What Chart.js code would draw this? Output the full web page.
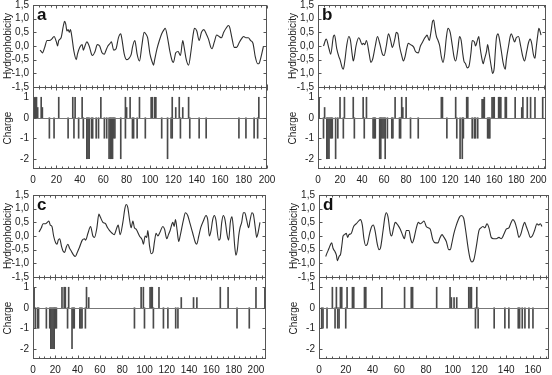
<!DOCTYPE html>
<html>
<head>
<meta charset="utf-8">
<script src="https://cdn.jsdelivr.net/npm/chart.js@4.4.1/dist/chart.umd.min.js"></script>
<style>
  body { margin: 0; width: 552px; height: 375px; overflow: hidden; background: #fff; position: relative; }
  canvas { position: absolute; }
</style>
</head>
<body>
<canvas id="pa"></canvas>
<canvas id="pb"></canvas>
<canvas id="pc"></canvas>
<canvas id="pd"></canvas>
<script>
// hydrophobicity profiles: [residue, value]
const hydroA = [[6,-0.15],[7,-0.2],[8,-0.25],[10,-0.05],[12,0.2],[14,0.2],[16,0.25],[18,0.35],[20,0.15],[21,0.0],[22,0.2],[24,0.3],[26,0.75],[27,0.9],[28,0.8],[29,0.55],[30,0.6],[31,0.5],[32,0.6],[33,0.4],[35,-0.2],[37,-0.5],[38,-0.3],[40,-0.05],[42,0.05],[43,-0.15],[44,-0.05],[46,0.15],[48,0.0],[50,-0.3],[51,-0.35],[53,-0.2],[55,0.05],[57,0.0],[59,-0.25],[61,-0.3],[62,-0.2],[64,0.0],[66,0.1],[67,0.15],[69,-0.15],[71,-0.1],[73,0.3],[75,0.45],[76,0.25],[78,-0.3],[80,-0.5],[82,-0.45],[84,-0.3],[85,-0.05],[87,0.2],[88,0.0],[89,-0.3],[91,-0.55],[93,0.0],[95,0.5],[97,0.4],[98,0.3],[100,-0.3],[102,-0.6],[103,-0.7],[104,-0.5],[106,-0.1],[108,0.2],[110,0.45],[112,0.6],[113,0.65],[115,0.3],[117,-0.2],[119,-0.55],[120,-0.6],[122,-0.25],[124,-0.2],[126,-0.35],[128,0.2],[129,0.0],[131,-0.5],[133,-0.7],[135,-0.2],[137,0.45],[138,0.65],[140,0.55],[142,0.2],[144,0.5],[146,0.6],[148,0.45],[150,0.25],[152,-0.05],[153,-0.1],[155,0.15],[157,0.4],[159,0.35],[161,0.3],[163,0.5],[165,0.65],[167,0.75],[168,0.7],[170,0.3],[172,-0.05],[174,-0.05],[176,0.1],[178,0.25],[180,0.35],[182,0.3],[184,0.3],[186,0.2],[188,0.1],[190,-0.4],[192,-0.65],[193,-0.65],[194,-0.55],[196,-0.2],[197,0.0]];
const hydroB = [[5,0.0],[7.5,0.25],[10,-0.1],[11.5,-0.3],[14,0.35],[15,0.4],[17,-0.1],[19,-0.4],[20,-0.5],[22,-0.8],[23,-0.85],[24.5,-0.5],[26,0.0],[28,0.35],[29.5,0.2],[31,-0.3],[32,-0.55],[33,-0.4],[34.5,0.0],[37,0.3],[38,0.25],[40,0.05],[41,0.1],[42.5,0.05],[44,0.2],[46.5,-0.3],[48,-0.6],[49.5,-0.5],[52,0.0],[54,0.35],[56,0.1],[58.5,-0.3],[60,-0.35],[62,0.0],[64,0.45],[66,0.2],[67.5,-0.05],[70,0.3],[71,0.5],[72.5,0.45],[74,0.0],[76,-0.35],[77.5,-0.55],[79,-0.4],[80.5,-0.1],[82,0.1],[84,0.05],[86,0.0],[87,-0.05],[88.5,-0.2],[91,-0.25],[93,0.0],[95,0.15],[97,0.3],[98,0.35],[99,0.4],[101,0.2],[102.5,0.5],[104,0.9],[105,0.95],[106,0.7],[107.5,0.35],[109,0.2],[110.5,0.0],[112,-0.4],[113.5,-0.6],[115,-0.3],[116.5,0.3],[118,0.65],[120,0.5],[122,0.0],[123.5,-0.4],[125,-0.55],[127,-0.1],[128.5,0.35],[130,0.2],[131.5,-0.3],[132.5,-0.55],[134,-0.65],[135.5,-0.8],[137,-0.75],[139,-0.2],[140,0.2],[142,0.15],[143,0.0],[145,0.25],[146,0.35],[147,0.0],[148.5,-0.4],[150,-0.65],[151,-0.5],[153,-0.2],[154,0.05],[155.5,-0.3],[157.5,-0.8],[158.5,-1.0],[160,-0.8],[161,-0.2],[162,0.3],[163.5,0.45],[164.5,0.3],[166.5,-0.2],[168,-0.6],[170,-0.85],[171,-0.5],[173,0.0],[174.5,0.35],[175.5,0.45],[177,0.3],[178.5,0.15],[180,0.3],[182,0.35],[184,0.0],[186,-0.4],[187.5,-0.55],[189.5,-0.2],[191,0.1],[192.5,0.25],[194,0.1],[195.5,-0.3],[197,-0.45],[198,-0.1],[199.5,0.4],[200.5,0.65],[201.5,0.55],[202.5,0.4]];
const hydroC = [[5.4,0.15],[7.5,0.3],[9,0.45],[11.3,0.45],[12.8,0.5],[14.3,0.55],[15.5,0.4],[17,0.35],[18.5,0.0],[20.3,-0.25],[21.5,-0.3],[22.7,-0.15],[23.9,-0.1],[25.7,-0.4],[26.9,-0.55],[28.4,-0.6],[29.9,-0.4],[31.3,-0.3],[32.8,-0.45],[34.3,-0.55],[36.4,-0.7],[37.9,-0.75],[39.7,-0.6],[41.8,-0.4],[44.2,-0.15],[46.3,-0.1],[47.2,-0.15],[49.3,0.1],[51.6,0.35],[53.7,0.0],[55.2,-0.05],[57.3,0.3],[59.1,0.8],[60.3,0.7],[62.7,0.5],[65,0.45],[66.9,0.3],[68.7,0.2],[71,0.1],[72.8,0.05],[75.2,0.3],[76.4,0.4],[78.2,0.05],[80.6,0.5],[82.4,1.0],[83.6,1.15],[85,1.05],[86.6,0.6],[88,0.3],[89.6,0.55],[91,0.3],[92.5,0.25],[95.5,0.0],[98,-0.15],[99,-0.3],[100.6,0.0],[102,-0.05],[103,0.2],[104.5,-0.35],[106,-0.65],[107.5,-0.6],[109,-0.2],[110.4,0.1],[112,0.0],[114,0.15],[116.4,0.35],[118,0.25],[120,-0.1],[121.5,0.05],[123,0.2],[125.4,0.5],[126.6,0.35],[127.8,0.6],[129.3,0.2],[130.7,-0.2],[132,0.0],[135,0.6],[136.7,0.85],[138.8,0.75],[140.9,0.45],[143.3,0.1],[145.7,-0.25],[146.9,-0.3],[148.7,0.0],[150.4,0.3],[152.8,0.55],[155.2,0.75],[156.7,0.6],[158.2,0.0],[159.7,0.2],[161.2,0.6],[162.7,0.75],[164,0.6],[166.6,-0.15],[167.8,-0.1],[169.3,0.5],[170.7,0.75],[172.2,0.6],[174.3,0.0],[175.5,-0.15],[177,0.5],[178.5,0.7],[179.7,0.3],[181,-0.4],[182,-0.7],[183.3,-0.5],[184.5,0.0],[185.7,0.3],[187.2,0.5],[188.7,0.85],[190,0.85],[191.6,0.6],[193.4,0.3],[194.6,0.55],[196.4,0.85],[197.6,0.8],[199.4,0.3],[200.6,-0.05],[201.8,0.1],[203.6,0.5]];
const hydroD = [[5,-0.75],[6.2,-0.6],[7.5,-0.45],[8.7,-0.3],[9.5,-0.25],[10.5,-0.45],[11.7,-0.55],[13,-0.7],[13.7,-0.9],[15,-0.75],[16.2,-0.65],[17.2,-0.3],[18,0.0],[19.2,0.05],[20.4,0.1],[21.4,-0.05],[22.4,0.05],[24.2,0.1],[25.9,0.35],[27.9,0.45],[29.7,0.55],[30.9,0.6],[32.4,0.4],[33.6,-0.1],[34.9,-0.35],[36.1,-0.3],[37.9,0.1],[39.4,0.35],[40.6,0.4],[41.9,0.2],[43.6,-0.3],[44.9,-0.5],[45.9,-0.45],[47.9,0.2],[49.3,0.7],[50.3,0.85],[51.6,0.7],[53.3,0.1],[54.3,0.0],[55.8,0.3],[57,0.5],[59,0.4],[60.8,0.25],[62.8,0.0],[63.8,-0.1],[65.3,0.2],[67.3,0.2],[68.5,-0.1],[69.8,-0.25],[71,-0.1],[72.8,0.3],[74.3,0.5],[75.8,0.45],[77.3,0.5],[78.5,0.55],[80.2,0.35],[81.7,0.3],[83.2,0.25],[85.2,-0.15],[87.2,-0.25],[89,-0.25],[90.2,-0.1],[92,0.05],[93.5,-0.05],[95.2,-0.2],[97,-0.5],[98.2,-0.5],[99.2,-0.3],[100.9,0.1],[102.7,0.4],[105.2,0.7],[106.4,0.75],[108.2,0.65],[109.7,0.2],[111.7,-0.5],[113.1,-0.85],[114.4,-0.95],[115.9,-0.85],[117.6,-0.4],[119.6,0.2],[121.1,0.3],[122.6,0.35],[124.1,0.3],[125.6,0.45],[127.1,0.3],[128.8,-0.05],[130.6,-0.1],[132.6,-0.1],[134.6,-0.05],[136.3,-0.1],[138.6,0.1],[140,0.25],[142,0.3],[143.3,0.45],[145,0.6],[146.5,0.5],[148,0.25],[149.5,-0.05],[150.8,0.05],[152.5,0.35],[153.8,0.5],[155,0.35],[156.5,0.15],[158,-0.05],[159.5,0.0],[161.2,0.2],[163,0.45],[164.2,0.4],[165.5,0.45],[166.7,0.35]];

// charged residues: [residue, charge]
const chargeA = [[1,1],[2,1],[3,1],[4,0.5],[7,1],[8,0.5],[22,1],[34,1],[36,1],[42,1],[58,1],[79,1],[80,0.5],[83,1],[91,1],[101,1],[102,1],[104,1],[105,1],[119,1],[122,0.5],[125,1],[128,0.5],[133,1],[193,1],
  [14,-1],[18,-1],[30,-1],[35,-1],[39,-1],[43,-1],[46,-2],[47,-2],[48,-2],[50,-1],[51,-1],[54,-1],[56,-1],[61,-1],[63,-1],[65,-2],[66,-2],[67,-2],[68,-2],[69,-1],[70,-1],[75,-2],[79,-1],[85,-1],[86,-1],[89,-1],[96,-1],[110,-1],[115,-2],[118,-1],[119,-1],[126,-1],[134,-1],[142,-1],[148,-1],[176,-1],[182,-1],[189,-1],[192,-1],[200,-1]];
const chargeB = [[1,1],[6,0.5],[20,1],[24,1],[32,1],[41,1],[44,1],[70,1],[76,1],[77,0.5],[80,1],[112,1],[113,1],[125,1],[135,1],[136,1],[149,0.9],[150,0.9],[151,1],[158,1],[159,1],[160,1],[164,1],[165,1],[166,1],[170,1],[171,1],[179,1],[185,0.5],[186,1],[190,1],[193,1],[197,1],[204,1],
  [5,-1],[8,-2],[9,-2],[10,-2],[11,-1],[12,-1],[13,-1],[16,-2],[18,-1],[23,-1],[33,-1],[42,-1],[50,-1],[51,-1],[52,-1],[56,-2],[57,-2],[58,-1],[59,-1],[60,-1],[61,-2],[63,-1],[67,-1],[68,-1],[74,-1],[75,-1],[84,-1],[91,-1],[117,-1],[126,-1],[129,-2],[131,-2],[132,-1],[140,-1],[142,-1],[143,-1],[145,-1],[154,-1],[155,-1],[156,-1],[207,-1]];
const chargeC = [[1,1],[26,1],[28,1],[29,1],[32,1],[48,1],[50,0.5],[97,1],[99,1],[105,1],[106,1],[107,1],[113,1],[133,0.5],[144,0.5],[147,0.5],[168,1],[175,1],[200,1],[208,1],
  [2,-1],[4,-1],[5,-1],[12,-1],[15,-1],[16,-2],[17,-2],[18,-2],[19,-2],[20,-1],[21,-1],[31,-1],[35,-2],[36,-1],[37,-1],[42,-1],[43,-1],[44,-1],[47,-1],[91,-1],[100,-1],[108,-1],[117,-1],[121,-1],[128,-1],[130,-1],[183,-1],[194,-1]];
const chargeD = [[10,1],[13,1],[16,1],[17,1],[21,1],[25,1],[26,1],[34,1],[35,1],[47,1],[64,1],[69,1],[70,1],[88,1],[98,1],[99,0.5],[101,0.5],[103,0.5],[112,1],[113,1],[114,1],[118,1],
  [2,-1],[3,-1],[6,-1],[12,-1],[14,-1],[15,-1],[20,-1],[117,-1],[119,-1],[131,-1],[139,-1],[142,-1],[149,-1],[150,-1],[152,-1],[154,-1],[157,-1],[160,-1],[172,-1]];

const hydroTicks = [-1.5, -1, -0.5, 0, 0.5, 1, 1.5];
const chargeTicks = [-2, -1, 0, 1];
const residueMax = { a: 200, b: 207, c: 209, d: 172 };

Chart.defaults.font.family = '"Liberation Sans", Arial, sans-serif';
Chart.defaults.color = '#222';

const AXIS_W = 33;
const fmt = v => v.toFixed(1).replace('.', ',');

// frame box, inner tick marks, zero line and panel letter
const framePlugin = {
  id: 'frame',
  afterDatasetsDraw(chart, args, opts) {
    const { ctx, chartArea: { left, right, top, bottom }, scales: { x, yH, yC } } = chart;
    const mid = Math.round(yH.bottom) + 0.5;
    const seg = (x1, y1, x2, y2) => { ctx.beginPath(); ctx.moveTo(x1, y1); ctx.lineTo(x2, y2); ctx.stroke(); };
    ctx.save();
    ctx.strokeStyle = '#777';
    ctx.lineWidth = 1;
    const z = Math.round(yC.getPixelForValue(0)) + 0.5;
    seg(left, z, right, z);
    const L = Math.round(left) + 0.5, R = Math.round(right) - 0.5;
    const T = Math.round(top) + 0.5, B = Math.round(bottom) - 0.5;
    ctx.strokeStyle = '#555';
    ctx.strokeRect(L, T, R - L, B - T);
    seg(L, mid, R, mid);
    for (let v = 0; v <= x.max; v += 5) {
      const px = Math.round(x.getPixelForValue(v)) + 0.5;
      const len = v % 20 === 0 ? 3 : 2;
      seg(px, T, px, T + len);
      seg(px, mid - len, px, mid + len);
      seg(px, B - len, px, B);
    }
    [[yH, hydroTicks], [yC, chargeTicks]].forEach(([s, tv]) => {
      tv.forEach(v => {
        const py = Math.round(s.getPixelForValue(v)) + 0.5;
        seg(L, py, L + 3, py);
        seg(R - 3, py, R, py);
      });
    });
    ctx.fillStyle = '#111';
    ctx.font = 'bold 17px "Liberation Sans", Arial, sans-serif';
    ctx.textBaseline = 'alphabetic';
    ctx.fillText(opts.letter, left + 4, top + 15);
    ctx.restore();
  }
};

const panels = [
  { id: 'pa', letter: 'a', left: 0,   top: 0,   plotW: 234, hydro: hydroA, charge: chargeA },
  { id: 'pb', letter: 'b', left: 285, top: 0,   plotW: 228, hydro: hydroB, charge: chargeB, noMinus: true },
  { id: 'pc', letter: 'c', left: 0,   top: 190, plotW: 233, hydro: hydroC, charge: chargeC },
  { id: 'pd', letter: 'd', left: 286, top: 190, plotW: 230, hydro: hydroD, charge: chargeD }
];

panels.forEach(p => {
  const cv = document.getElementById(p.id);
  cv.width = AXIS_W + p.plotW + 12;
  cv.height = 187;
  cv.style.left = p.left + 'px';
  cv.style.top = p.top + 'px';

  const noPad = s => { s.paddingTop = 0; s.paddingBottom = 0; s.paddingLeft = 0; s.paddingRight = 0; };
  const yCommon = {
    type: 'linear',
    position: 'left',
    stack: 'panel',
    grid: { display: false, drawTicks: false },
    border: { display: false },
    afterFit: s => { s.width = AXIS_W; noPad(s); }
  };

  new Chart(cv, {
    type: 'line',
    data: {
      datasets: [
        {
          type: 'line',
          data: p.hydro.map(([x, y]) => ({ x, y })),
          xAxisID: 'x', yAxisID: 'yH',
          borderColor: '#2e2e2e', borderWidth: 1.1,
          pointRadius: 0, cubicInterpolationMode: 'monotone', fill: false
        },
        {
          type: 'bar',
          data: p.charge.map(([x, y]) => ({ x, y })),
          xAxisID: 'x', yAxisID: 'yC',
          backgroundColor: '#4a4a4a', barThickness: 1, maxBarThickness: 1
        }
      ]
    },
    options: {
      responsive: false,
      animation: false,
      devicePixelRatio: 1,
      layout: { padding: { top: 5, right: 12, left: 0, bottom: 0 } },
      plugins: { legend: { display: false }, tooltip: { enabled: false }, frame: { letter: p.letter } },
      scales: {
        x: {
          type: 'linear', min: 0, max: residueMax[p.letter], offset: false,
          grid: { display: false, drawTicks: false }, border: { display: false },
          ticks: { stepSize: 20, includeBounds: false, padding: 5, autoSkip: false, maxRotation: 0, font: { size: 10 } },
          afterFit: s => { s.height = 18; noPad(s); }
        },
        yC: Object.assign({}, yCommon, {
          min: -2.5, max: 1.5,
          afterBuildTicks: s => { s.ticks = chargeTicks.map(v => ({ value: v })); },
          ticks: { padding: 4, autoSkip: false, font: { size: 10 }, callback: v => String(v) },
          title: { display: true, text: 'Charge', font: { size: 10 }, padding: { top: 2, bottom: 0 } }
        }),
        yH: Object.assign({}, yCommon, {
          min: -1.5, max: 1.5,
          afterBuildTicks: s => { s.ticks = hydroTicks.map(v => ({ value: v })); },
          ticks: { padding: 4, autoSkip: false, font: { size: 10 }, callback: v => (p.noMinus && v === -1) ? '1,0' : fmt(v) },
          title: { display: true, text: 'Hydrophobicity', font: { size: 10 }, padding: { top: 2, bottom: 0 } }
        })
      }
    },
    plugins: [framePlugin]
  });
});
</script>
</body>
</html>
